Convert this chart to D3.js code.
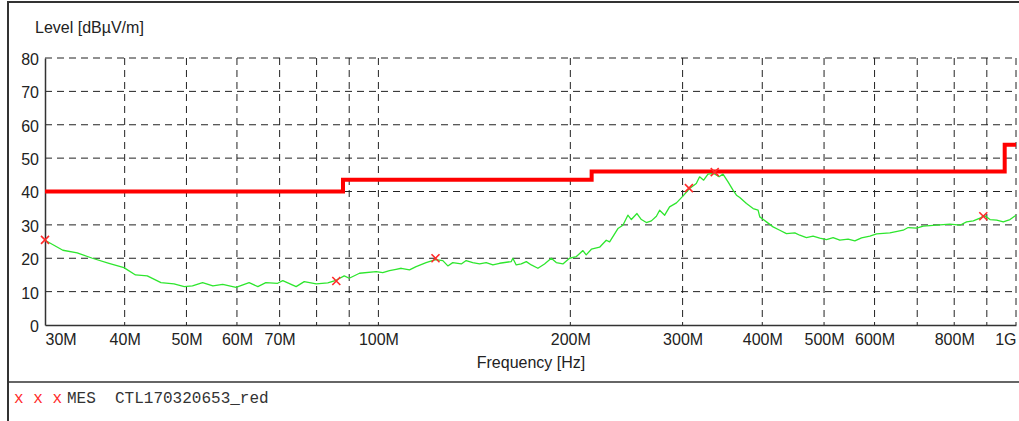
<!DOCTYPE html>
<html>
<head>
<meta charset="utf-8">
<script src="https://cdn.jsdelivr.net/npm/d3@7"></script>
<style>
  body { margin: 0; background: #fff; }
  svg { display: block; font-family: Arial, "Liberation Sans", sans-serif; }
</style>
</head>
<body>
<svg id="chart"></svg>
<script>
// frequencies in MHz, levels in dBuV/m
const gridFreqs = [40, 50, 60, 70, 80, 90, 100, 200, 300, 400, 500, 600, 700, 800, 900, 1000];
const labelFreqs = [30, 40, 50, 60, 70, 100, 200, 300, 400, 500, 600, 800, 1000];
const levelTicks = [0, 10, 20, 30, 40, 50, 60, 70, 80];

const limitFreq = [30, 88, 216, 960, 1000];
const limitLevel = [40, 43.5, 46, 54, 54];

const scanFreq = [30, 32.0, 33.7, 35.6, 37.8, 39.9, 41.6, 43.4, 45.6, 47.8, 49.6, 51.1, 53.0, 55.0, 57.0, 59.8,
  62.7, 64.7, 66.6, 69.5, 70.8, 74.3, 76.5, 79.9, 83.3, 85.8, 88.4, 90.0, 93.4, 99.2, 101.6, 104.1, 106.6,
  108.6, 111.9, 114.6, 118.8, 122.9, 126.2, 128.5, 130.8, 134.9, 137.3, 140.6, 144.1, 147.6, 151.2, 154.9,
  161.6, 162.5, 164.5, 167.5, 170.6, 173.7, 177.9, 182.2, 186.7, 190.1, 194.7, 199.4, 204.4, 209.3, 211.8,
  215.8, 222.3, 227.7, 230.5, 237.5, 241.8, 246.2, 249.3, 254.4, 258.5, 263.2, 268.0, 272.9, 276.1, 281.2,
  286.2, 293.4, 300.3, 307.7, 315.2, 319.0, 323.7, 328.8, 335.7, 342.2, 347.1, 353.5, 359.9, 364.4, 368.8,
  377.8, 387.0, 394.0, 396.4, 406.1, 415.9, 426.1, 436.5, 449.9, 458.0, 469.2, 480.5, 492.3, 504.4, 516.6,
  529.3, 545.4, 558.8, 572.5, 590.0, 604.5, 634.2, 665.4, 677.4, 698.4, 715.3, 750.8, 787.8, 816.6, 836.6,
  857.0, 878.0, 891.7, 910.4, 932.6, 955.2, 978.6, 1000];
const scanLevel = [25.4, 22.4, 21.6, 20.0, 18.5, 17.2, 15.0, 14.7, 12.7, 12.3, 11.5, 11.7, 12.7, 11.7, 12.2, 11.3,
  12.7, 11.5, 12.7, 12.5, 13.3, 11.5, 13.0, 12.3, 12.6, 13.4, 14.7, 14.0, 15.5, 16.0, 15.7, 16.3, 16.7,
  17.0, 16.5, 17.5, 18.7, 19.6, 19.3, 17.7, 18.7, 18.3, 19.3, 18.7, 18.3, 18.7, 18.0, 18.5,
  19.0, 20.0, 18.0, 18.3, 19.0, 18.0, 17.0, 18.3, 20.0, 18.7, 18.3, 20.0, 20.5, 22.3, 21.0,
  22.7, 23.3, 25.4, 24.9, 28.9, 29.9, 32.9, 31.6, 33.4, 31.6, 30.7, 31.2, 32.6, 34.4, 32.9,
  35.4, 36.6, 38.6, 40.9, 42.4, 44.4, 43.4, 45.2, 45.4, 44.4, 45.2, 42.9, 40.4, 38.9, 38.2,
  36.4, 34.9, 34.4, 32.4, 30.9, 29.4, 28.4, 27.4, 27.6, 26.9, 26.2, 26.6, 26.0, 25.6, 26.2,
  25.4, 25.7, 25.2, 26.1, 26.6, 27.3, 27.6, 28.4, 29.2, 29.0, 29.6, 29.9, 30.2, 29.9, 30.9,
  31.2, 32.0, 32.9, 31.6, 31.4, 30.9, 31.6, 32.9];

const markFreq = [30, 85.9, 122.9, 306.9, 336.9, 888.6];
const markLevel = [25.5, 13.2, 20.0, 41.0, 45.8, 32.6];

const width = 1019, height = 421;
const m = {left: 45, right: 1016, top: 58, bottom: 325};

const svg = d3.select("#chart").attr("width", width).attr("height", height);

const x = d3.scaleLog().domain([30, 1000]).range([m.left, m.right]);
const y = d3.scaleLinear().domain([0, 80]).range([m.bottom, m.top]);

// frame
svg.append("line").attr("x1", 8).attr("x2", width).attr("y1", 2).attr("y2", 2)
  .attr("stroke", "#333").attr("stroke-width", 2);
svg.append("line").attr("x1", 8).attr("x2", 8).attr("y1", 1).attr("y2", height)
  .attr("stroke", "#333").attr("stroke-width", 2);
svg.append("line").attr("x1", 8).attr("x2", width).attr("y1", 382).attr("y2", 382)
  .attr("stroke", "#333").attr("stroke-width", 1.5);

// grid
svg.append("g").selectAll("line")
  .data(levelTicks.filter(d => d > 0))
  .join("line")
  .attr("x1", m.left).attr("x2", m.right)
  .attr("y1", d => y(d)).attr("y2", d => y(d))
  .attr("stroke", "#222").attr("stroke-width", 1).attr("stroke-dasharray", "7,5");

svg.append("g").selectAll("line")
  .data(gridFreqs)
  .join("line")
  .attr("x1", d => x(d)).attr("x2", d => x(d))
  .attr("y1", m.top).attr("y2", m.bottom)
  .attr("stroke", "#222").attr("stroke-width", 1).attr("stroke-dasharray", "7,5");

// axes
const xAxis = svg.append("g")
  .attr("transform", `translate(0,${m.bottom})`)
  .call(d3.axisBottom(x).tickValues(labelFreqs).tickSize(0).tickPadding(0)
    .tickFormat(d => d >= 1000 ? "1G" : d + "M"));
xAxis.select(".domain").attr("stroke", "#333").attr("stroke-width", 1.5);
xAxis.selectAll("text")
  .attr("y", 20).attr("dy", 0)
  .attr("font-size", 16).attr("fill", "#222")
  .attr("text-anchor", d => d === 30 ? "start" : d === 1000 ? "end" : "middle");

const yAxis = svg.append("g")
  .attr("transform", `translate(${m.left},0)`)
  .call(d3.axisLeft(y).tickValues(levelTicks).tickSize(0).tickPadding(6));
yAxis.select(".domain").attr("stroke", "#333").attr("stroke-width", 1.5);
yAxis.selectAll("text").attr("font-size", 16).attr("fill", "#222").attr("dy", "0.4em");

// titles
svg.append("text").attr("x", 35).attr("y", 33)
  .attr("font-size", 16).attr("fill", "#222").text("Level [dBµV/m]");
svg.append("text").attr("x", 531).attr("y", 368).attr("text-anchor", "middle")
  .attr("font-size", 16).attr("fill", "#222").text("Frequency [Hz]");

// limit line
const limitPts = limitFreq.map((f, i) => [f, limitLevel[i]]);
svg.append("path")
  .datum(limitPts)
  .attr("fill", "none").attr("stroke", "#ff0000").attr("stroke-width", 4)
  .attr("d", d3.line().x(d => x(d[0])).y(d => y(d[1])).curve(d3.curveStepAfter));

// scan
const scanPts = scanFreq.map((f, i) => [f, scanLevel[i]]);
svg.append("path")
  .datum(scanPts)
  .attr("fill", "none").attr("stroke", "#2ee62e").attr("stroke-width", 1.3)
  .attr("stroke-linejoin", "round")
  .attr("d", d3.line().x(d => x(d[0])).y(d => y(d[1])));

// markers
const s = 4;
svg.append("g").selectAll("path")
  .data(markFreq.map((f, i) => [f, markLevel[i]]))
  .join("path")
  .attr("d", d => {
    const cx = x(d[0]), cy = y(d[1]);
    return `M${cx - s},${cy - s}L${cx + s},${cy + s}M${cx - s},${cy + s}L${cx + s},${cy - s}`;
  })
  .attr("stroke", "#ff2a2a").attr("stroke-width", 1.6).attr("fill", "none");

// legend
svg.append("text").attr("x", 14).attr("y", 403)
  .attr("font-family", "'Courier New', 'Liberation Mono', monospace")
  .attr("font-size", 16).attr("fill", "#ff2a2a").text("x x x");
svg.append("text").attr("x", 67).attr("y", 403)
  .attr("font-family", "'Courier New', 'Liberation Mono', monospace")
  .attr("font-size", 16).attr("fill", "#333").attr("xml:space", "preserve")
  .style("white-space", "pre").text("MES  CTL170320653_red");
</script>
</body>
</html>
